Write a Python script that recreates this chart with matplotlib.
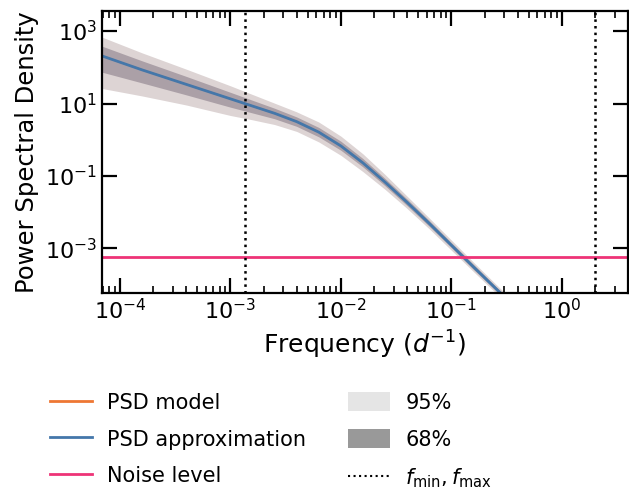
import numpy as np
import matplotlib
matplotlib.use('Agg')
from matplotlib import pyplot as plt
from matplotlib.lines import Line2D
from matplotlib.patches import Patch
from matplotlib import ticker

# frequency grid (log10 of 1/day) and log10 PSD of the approximation
log_freq = [-4.165, -3.8, -3.4, -3.0, -2.8, -2.6, -2.4, -2.2, -2.0, -1.8,
            -1.6, -1.4, -1.2, -1.0, -0.8, -0.6, -0.3, 0.301]
log_psd = [2.318, 1.93, 1.53, 1.13, 0.93, 0.73, 0.50, 0.21, -0.17, -0.64,
           -1.17, -1.73, -2.31, -2.91, -3.51, -4.10, -4.98, -6.78]

# credible interval half-widths in decades (upper, lower)
up95 = [.52, .47, .42, .36, .32, .28, .27, .28, .27, .25, .21, .17, .15, .14,
        .13, .12, .12, .12]
lo95 = [.90, .72, .57, .46, .38, .31, .27, .27, .26, .24, .20, .17, .15, .14,
        .13, .12, .12, .12]
up68 = [.27, .25, .22, .18, .16, .14, .13, .13, .13, .12, .10, .09, .08, .07,
        .07, .06, .06, .06]
lo68 = [.45, .36, .29, .23, .19, .15, .13, .13, .12, .11, .10, .09, .08, .07,
        .07, .06, .06, .06]

f_min = 1.37e-3
f_max = 2.0
noise_level = 5.86e-4
ytick_values = [1e-3, 1e-1, 1e1, 1e3]

c_model = '#EE7733'
c_approx = '#4477AA'
c_noise = '#EE3377'

f = 10 ** np.array(log_freq)
psd = 10 ** np.array(log_psd)

fig = plt.figure(figsize=(6.29, 4.94), dpi=100)
ax = fig.add_axes([0.1617, 0.4069, 0.8372, 0.5718])

ax.fill_between(f, psd * 10 ** -np.array(lo95), psd * 10 ** np.array(up95),
                color='#DDD4D4', lw=0)
ax.fill_between(f, psd * 10 ** -np.array(lo68), psd * 10 ** np.array(up68),
                color='#ABA0A7', lw=0)
ax.plot(f, psd, color=c_model, lw=1.2)
ax.plot(f, psd, color=c_approx, lw=2)
ax.axhline(noise_level, color=c_noise, lw=2)
ax.axvline(f_min, color='k', ls=':', lw=1.8)
ax.axvline(f_max, color='k', ls=':', lw=1.8)

ax.set_xscale('log')
ax.set_yscale('log')
ax.set_xlim(f_min / 20, f_max * 2)
ax.set_ylim(noise_level / 10, 3.7e3)

ax.yaxis.set_major_locator(ticker.FixedLocator(ytick_values))
ax.yaxis.set_minor_locator(ticker.NullLocator())
ax.xaxis.set_minor_locator(ticker.LogLocator(base=10, subs=np.arange(2, 10), numticks=20))

ax.tick_params(which='both', direction='in', top=True, right=True, labelsize=16)
ax.tick_params(which='major', length=11, width=1.6)
ax.tick_params(which='minor', length=5, width=1.2)
for sp in ax.spines.values():
    sp.set_linewidth(1.6)

ax.set_xlabel(r'Frequency ($d^{-1}$)', fontsize=18)
ax.set_ylabel('Power Spectral Density', fontsize=17.5)

handles = [
    Line2D([], [], color=c_model, lw=2),
    Line2D([], [], color=c_approx, lw=2),
    Line2D([], [], color=c_noise, lw=2),
    Patch(color='#E5E5E5', lw=0),
    Patch(color='#999999', lw=0),
    Line2D([], [], color='k', ls=':', lw=1.5),
]
labels = ['PSD model', 'PSD approximation', 'Noise level', '95%', '68%',
          r'$f_{\rm min}, f_{\rm max}$']
fig.legend(handles, labels, ncol=2, frameon=False, fontsize=15,
           loc='center', bbox_to_anchor=(271 / 629, 1 - 441 / 494),
           handleheight=1.0, labelspacing=0.78, columnspacing=2.0,
           handletextpad=0.75)

fig.savefig('out.png', dpi=100)
